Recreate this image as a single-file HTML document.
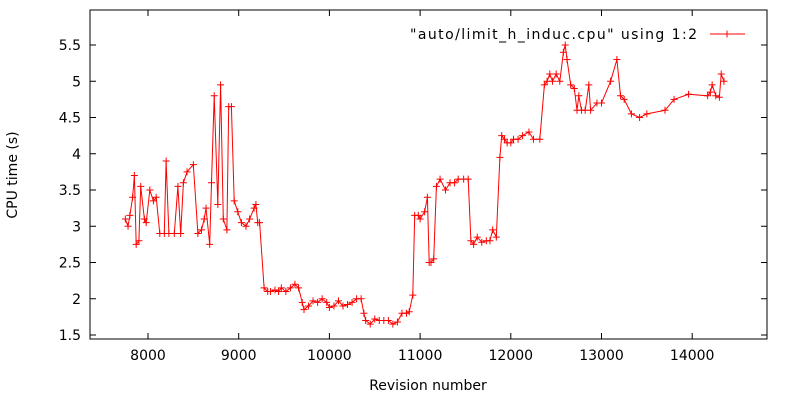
<!DOCTYPE html>
<html><head><meta charset="utf-8"><style>
body{margin:0;background:#fff}
svg{display:block;font-family:"DejaVu Sans","Liberation Sans",sans-serif}
</style></head><body>
<svg id="chart" width="800" height="400" xmlns="http://www.w3.org/2000/svg">
<rect x="0" y="0" width="800" height="400" fill="#fff"/>
<g id="axes"></g>
<g id="series"></g>
<text transform="translate(17,175) rotate(-90)" text-anchor="middle" font-size="14" fill="#000">CPU time (s)</text>
<text x="428" y="390" text-anchor="middle" font-size="14" fill="#000">Revision number</text>
<g>
<text x="697" y="39" text-anchor="end" font-size="14" textLength="287" fill="#000">"auto/limit_h_induc.cpu" using 1:2</text>
<line x1="710" y1="34" x2="745" y2="34" stroke="#f00" stroke-width="1"/>
<line x1="723.5" y1="34" x2="730.5" y2="34" stroke="#f00"/><line x1="727" y1="30.5" x2="727" y2="37.5" stroke="#f00"/>
</g>
</svg>
<script>
const xTicks=[8000,9000,10000,11000,12000,13000,14000];
const yTicks=[1.5,2,2.5,3,3.5,4,4.5,5,5.5];
const yTickLabels=["1.5","2","2.5","3","3.5","4","4.5","5","5.5"];
const revisions=[7750,7780,7800,7830,7850,7870,7900,7920,7960,7980,8020,8060,8090,8130,8180,8200,8230,8290,8330,8360,8390,8430,8500,8550,8590,8620,8640,8680,8700,8730,8770,8800,8830,8870,8890,8920,8950,8990,9030,9080,9120,9170,9190,9210,9230,9280,9320,9350,9400,9440,9470,9520,9570,9620,9660,9700,9720,9770,9820,9870,9920,9970,10000,10050,10100,10150,10200,10250,10300,10350,10380,10400,10450,10500,10550,10600,10650,10700,10750,10800,10850,10880,10920,10940,10980,11000,11050,11080,11100,11120,11150,11180,11220,11280,11330,11380,11420,11480,11530,11560,11590,11630,11680,11730,11770,11800,11840,11880,11900,11930,11960,12000,12030,12080,12130,12200,12250,12320,12370,12400,12430,12460,12500,12540,12580,12600,12620,12660,12700,12730,12750,12780,12820,12860,12880,12950,13000,13100,13170,13210,13250,13330,13420,13500,13700,13800,13960,14170,14200,14220,14260,14300,14320,14350];
const cpuTimes=[3.1,3.0,3.15,3.4,3.7,2.75,2.8,3.55,3.1,3.05,3.5,3.35,3.4,2.9,2.9,3.9,2.9,2.9,3.55,2.9,3.6,3.75,3.85,2.9,2.95,3.1,3.25,2.75,3.6,4.8,3.3,4.95,3.1,2.95,4.65,4.65,3.35,3.2,3.05,3.0,3.1,3.25,3.3,3.05,3.05,2.15,2.1,2.1,2.12,2.1,2.15,2.1,2.15,2.2,2.15,1.95,1.85,1.9,1.97,1.95,2.0,1.95,1.88,1.9,1.97,1.9,1.92,1.95,2.0,2.0,1.8,1.7,1.65,1.72,1.7,1.7,1.7,1.65,1.68,1.8,1.8,1.82,2.05,3.15,3.15,3.1,3.2,3.4,2.5,2.5,2.55,3.55,3.65,3.5,3.6,3.6,3.65,3.65,3.65,2.8,2.75,2.85,2.78,2.8,2.8,2.95,2.85,3.95,4.25,4.2,4.15,4.15,4.2,4.2,4.25,4.3,4.2,4.2,4.95,5.0,5.1,5.0,5.1,5.0,5.4,5.5,5.3,4.95,4.9,4.6,4.8,4.6,4.6,4.95,4.6,4.7,4.7,5.0,5.3,4.8,4.75,4.55,4.5,4.55,4.6,4.75,4.82,4.8,4.85,4.95,4.8,4.78,5.1,5.0];

const L=90,R=767,T=10,B=339;
function xs(v){return 148+(v-8000)*0.0907;}
function ys(v){return 335-(v-1.5)*72.5;}
const NS="http://www.w3.org/2000/svg";
function mk(tag,attrs,parent){const e=document.createElementNS(NS,tag);for(const k in attrs)e.setAttribute(k,attrs[k]);parent.appendChild(e);return e;}
const ax=document.getElementById('axes');
const frame=mk('rect',{x:L,y:T,width:R-L,height:B-T,fill:'none',stroke:'#000','stroke-width':1},ax);


xTicks.forEach(v=>{const x=xs(v);
mk('line',{x1:x,y1:B,x2:x,y2:B-6,stroke:'#000'},ax);
mk('line',{x1:x,y1:T,x2:x,y2:T+6,stroke:'#000'},ax);
const t=mk('text',{x:x,y:B+21,'text-anchor':'middle','font-size':14,fill:'#000'},ax);t.textContent=v;

});
yTicks.forEach((v,i)=>{const y=ys(v);
mk('line',{x1:L,y1:y,x2:L+6,y2:y,stroke:'#000'},ax);
mk('line',{x1:R,y1:y,x2:R-6,y2:y,stroke:'#000'},ax);
const t=mk('text',{x:81,y:y+5,'text-anchor':'end','font-size':14,fill:'#000'},ax);t.textContent=yTickLabels[i];

});
const sg=document.getElementById('series');
const pts=revisions.map((r,i)=>xs(r).toFixed(1)+','+ys(cpuTimes[i]).toFixed(1)).join(' ');
const line=mk('polyline',{points:pts,fill:'none',stroke:'#f00','stroke-width':1},sg);


revisions.forEach((r,i)=>{const x=xs(r),y=ys(cpuTimes[i]);
const p=mk('path',{d:`M${x-3.5},${y}H${x+3.5}M${x},${y-3.5}V${y+3.5}`,stroke:'#f00','stroke-width':1,fill:'none'},sg);

});
</script>
</body></html>
